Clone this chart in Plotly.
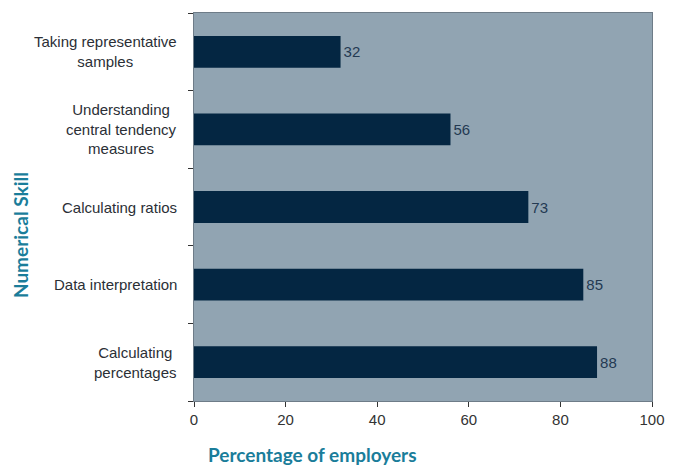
import plotly.graph_objects as go

# Skills, listed bottom-to-top as drawn on the category axis
skills = [
    "Calculating<br>percentages",
    "Data interpretation",
    "Calculating ratios",
    "Understanding<br>central tendency<br>measures",
    "Taking representative<br>samples",
]
employers_pct = [88, 85, 73, 56, 32]
x_ticks = [0, 20, 40, 60, 80, 100]

BAR = "#042642"
PLOT_BG = "#91a4b2"
TEAL = "#1a7d9a"
LABEL = "#2b2f36"
FONT = "Liberation Sans, Arial"

fig = go.Figure(
    go.Bar(
        x=employers_pct,
        y=list(range(len(skills))),
        orientation="h",
        marker=dict(color=BAR, line=dict(width=0)),
        width=0.41,
        text=[str(v) for v in employers_pct],
        textposition="outside",
        textfont=dict(family=FONT, size=15, color="#243a52"),
        cliponaxis=False,
    )
)

# Category labels: right-aligned block, centred lines
for i, s in enumerate(skills):
    fig.add_annotation(
        x=0, xref="paper", y=i, yref="y",
        text=s, showarrow=False,
        xanchor="right", align="center", xshift=-15,
        font=dict(family=FONT, size=15, color=LABEL),
    )

# Axis titles
fig.add_annotation(
    x=(20 - 194) / 461, xref="paper", y=0.428, yref="paper",
    text="<b>Numerical Skill</b>", textangle=-90, showarrow=False,
    xanchor="center", yanchor="middle",
    font=dict(family="Lato, Open Sans", size=19, color=TEAL),
)
fig.add_annotation(
    x=(313 - 194) / 461, xref="paper", y=-(454 - 401) / 388, yref="paper",
    text="<b>Percentage of employers</b>", showarrow=False,
    xanchor="center", yanchor="middle",
    font=dict(family="Lato, Open Sans", size=19, color=TEAL),
)

fig.update_layout(
    width=677, height=468,
    margin=dict(l=194, r=22, t=13, b=67),
    paper_bgcolor="white",
    plot_bgcolor=PLOT_BG,
    showlegend=False,
    xaxis=dict(
        range=[0, 100], tickvals=x_ticks, ticks="outside", ticklen=5,
        tickcolor="#333", showgrid=False, zeroline=False,
        showline=True, linecolor="#6e7c88", linewidth=1, mirror=True,
        tickfont=dict(family=FONT, size=15, color="#333"),
    ),
    yaxis=dict(
        range=[-0.5, 4.5], tickvals=[-0.5, 0.5, 1.5, 2.5, 3.5, 4.5],
        ticktext=[""] * 6, ticks="outside", ticklen=5, tickcolor="#333",
        showgrid=False, zeroline=False,
        showline=True, linecolor="#6e7c88", linewidth=1, mirror=True,
    ),
)

fig.write_html("out.html")
